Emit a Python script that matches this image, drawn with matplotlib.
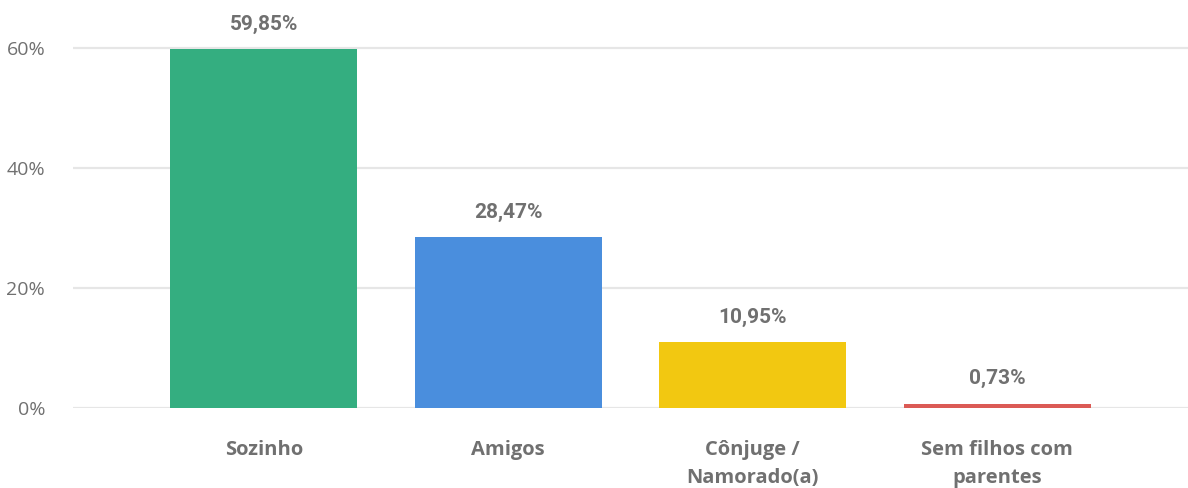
import matplotlib
matplotlib.use('Agg')
import matplotlib.pyplot as plt
from matplotlib.ticker import FuncFormatter

# Data
categories = ['Sozinho', 'Amigos', 'Cônjuge /\nNamorado(a)', 'Sem filhos com\nparentes']
values = [59.85, 28.47, 10.95, 0.73]
colors = ['#34AE80', '#4A8EDD', '#F2C811', '#DB5A55']
yticks = [0, 20, 40, 60]

fig = plt.figure(figsize=(11.88, 4.88), dpi=100)
ax = fig.add_axes([73 / 1188, 80 / 488, 1 - 73 / 1188, 408 / 488])

x = range(len(categories))
bars = ax.bar(x, values, width=0.765, color=colors, zorder=3)

for bar, v in zip(bars, values):
    ax.annotate(f'{v:.2f}%'.replace('.', ','),
                (bar.get_x() + bar.get_width() / 2, bar.get_height()),
                xytext=(0, 11), textcoords='offset points',
                ha='center', va='bottom', fontsize=15, fontweight='bold',
                color='#707070', family='Roboto')

ax.set_xlim(-0.78, 3.78)
ax.set_ylim(0, 68)
ax.set_yticks(yticks)
ax.yaxis.set_major_formatter(FuncFormatter(lambda v, p: f'{v:.0f}%'))
ax.grid(axis='y', color='#e6e6e6', linewidth=1.6, zorder=0)
ax.set_xticks(list(x))
ax.set_xticklabels(categories, fontsize=14.5, fontweight='bold', color='#707070',
                   family='Open Sans', linespacing=1.55)

ax.tick_params(axis='y', length=0, pad=20, labelsize=14, labelcolor='#707070')
ax.tick_params(axis='x', length=0, pad=23)
for lbl in ax.get_yticklabels():
    lbl.set_family('Open Sans')
for s in ax.spines.values():
    s.set_visible(False)

fig.savefig('out.png', dpi=100)
